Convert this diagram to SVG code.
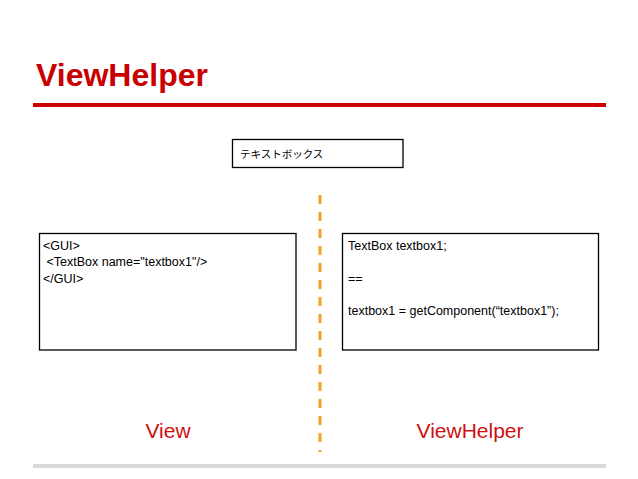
<svg xmlns="http://www.w3.org/2000/svg" width="638" height="479" viewBox="0 0 638 479">
<style>
.box{fill:#fff;stroke:#000;stroke-width:1.3}
.code{font-family:"Liberation Sans",Arial,sans-serif;font-size:12.5px;fill:#000}
.jp{font-family:"Liberation Sans","Noto Sans CJK JP",sans-serif;font-size:10.5px;fill:#000}
.label{font-family:"Liberation Sans",Arial,sans-serif;font-size:21px;fill:#cc1111;text-anchor:middle}
</style>
<rect x="0" y="0" width="638" height="479" fill="#fff"/>
<g id="header">
<text x="36" y="86" font-family="'Liberation Sans',Arial,sans-serif" font-size="32" font-weight="bold" fill="#c80000">ViewHelper</text>
<rect x="33" y="103" width="573" height="4" fill="#cc0000"/>
</g>
<g id="textbox">
<rect class="box" x="232.5" y="139.5" width="170.5" height="28"/>
<text class="jp" x="240" y="158">テキストボックス</text>
</g>
<g id="connectors">
<line x1="320" y1="195" x2="320" y2="452" stroke="#f2a227" stroke-width="3" stroke-dasharray="9 8"/>
</g>
<g id="view-box">
<rect class="box" x="39.5" y="233.5" width="256.5" height="116.5"/>
<text class="code" x="43" y="249.5">&lt;GUI&gt;</text>
<text class="code" x="43" y="266" xml:space="preserve"> &lt;TextBox name="textbox1"/&gt;</text>
<text class="code" x="43" y="282.5">&lt;/GUI&gt;</text>
</g>
<g id="viewhelper-box">
<rect class="box" x="342.5" y="233.5" width="256" height="116.5"/>
<text class="code" x="348" y="249.5">TextBox textbox1;</text>
<text class="code" x="348" y="282.5">==</text>
<text class="code" x="348" y="315">textbox1 = getComponent(“textbox1”);</text>
</g>
<g id="view-label">
<text class="label" x="168" y="438">View</text>
</g>
<g id="viewhelper-label">
<text class="label" x="470" y="438">ViewHelper</text>
</g>
<rect x="33" y="464" width="573" height="4" fill="#d9d9d9"/>
</svg>
